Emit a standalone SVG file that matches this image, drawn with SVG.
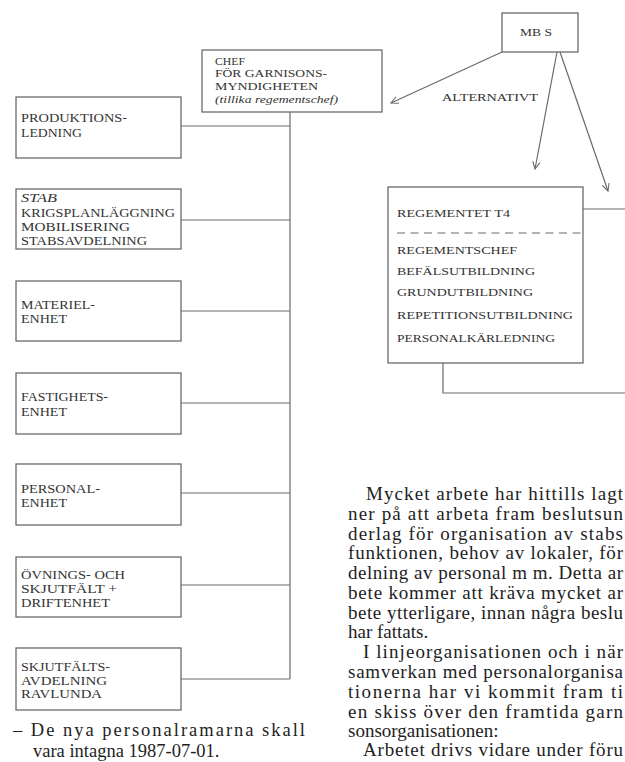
<svg xmlns="http://www.w3.org/2000/svg" width="625" height="762" viewBox="0 0 625 762">
<style>
.box{fill:#fff;stroke:#6a6a6a;stroke-width:1.3}
.ln{fill:none;stroke:#6a6a6a;stroke-width:1.2}
.t{font-family:"Liberation Serif","Times New Roman",serif;fill:#333}
.s{font-size:12px}
.c{font-size:10.5px}
.r{font-size:10.5px}
.p{font-size:19px;fill:#1e1e1e}
.q{font-size:18.5px;fill:#1e1e1e}
</style>
<defs>
<marker id="ah" viewBox="0 0 10 10" refX="9" refY="5" markerWidth="9" markerHeight="9" orient="auto" markerUnits="userSpaceOnUse">
<path d="M1,1 L9,5 L1,9" fill="none" stroke="#6a6a6a" stroke-width="1.2"/>
</marker>
</defs>
<rect width="625" height="762" fill="#fff"/>

<g id="connectors">
<line class="ln" x1="290" y1="112" x2="290" y2="679"/>
<line class="ln" x1="181" y1="126" x2="290" y2="126"/>
<line class="ln" x1="181" y1="220" x2="290" y2="220"/>
<line class="ln" x1="181" y1="311" x2="290" y2="311"/>
<line class="ln" x1="181" y1="403" x2="290" y2="403"/>
<line class="ln" x1="181" y1="493" x2="290" y2="493"/>
<line class="ln" x1="181" y1="585" x2="290" y2="585"/>
<line class="ln" x1="181" y1="679" x2="290" y2="679"/>
<line class="ln" x1="502" y1="52" x2="391" y2="103" marker-end="url(#ah)"/>
<line class="ln" x1="557" y1="52" x2="535" y2="169" marker-end="url(#ah)"/>
<line class="ln" x1="560" y1="52" x2="608" y2="191" marker-end="url(#ah)"/>
<line class="ln" x1="583" y1="209" x2="625" y2="209"/>
<polyline class="ln" points="443,363 443,393 625,393"/>
</g>

<g id="mbs">
<rect class="box" x="502" y="13" width="76" height="39"/>
<text class="t c" x="520" y="36" textLength="32" lengthAdjust="spacingAndGlyphs">MB S</text>
</g>

<g id="alternativt">
<text class="t c" x="442" y="101" textLength="96" lengthAdjust="spacingAndGlyphs">ALTERNATIVT</text>
</g>

<g id="chef">
<rect class="box" x="202" y="50" width="180" height="62"/>
<text class="t c" x="215" y="65" textLength="30" lengthAdjust="spacingAndGlyphs">CHEF</text>
<text class="t c" x="215" y="77" textLength="112" lengthAdjust="spacingAndGlyphs">FÖR GARNISONS-</text>
<text class="t c" x="215" y="90" textLength="103" lengthAdjust="spacingAndGlyphs">MYNDIGHETEN</text>
<text class="t c" x="215" y="103" textLength="123" lengthAdjust="spacingAndGlyphs" font-style="italic">(tillika regementschef)</text>
</g>

<g id="produktionsledning">
<rect class="box" x="16" y="97" width="165" height="61"/>
<text class="t s" x="21" y="122" textLength="106" lengthAdjust="spacingAndGlyphs">PRODUKTIONS-</text>
<text class="t s" x="21" y="137" textLength="61" lengthAdjust="spacingAndGlyphs">LEDNING</text>
</g>

<g id="stab">
<rect class="box" x="16" y="189" width="165" height="60"/>
<text class="t s" x="21" y="202" textLength="36" lengthAdjust="spacingAndGlyphs" font-style="italic">STAB</text>
<text class="t s" x="21" y="217" textLength="154" lengthAdjust="spacingAndGlyphs">KRIGSPLANLÄGGNING</text>
<text class="t s" x="21" y="231" textLength="109" lengthAdjust="spacingAndGlyphs">MOBILISERING</text>
<text class="t s" x="21" y="245" textLength="126" lengthAdjust="spacingAndGlyphs">STABSAVDELNING</text>
</g>

<g id="materielenhet">
<rect class="box" x="16" y="281" width="165" height="60"/>
<text class="t s" x="21" y="309" textLength="74" lengthAdjust="spacingAndGlyphs">MATERIEL-</text>
<text class="t s" x="21" y="323" textLength="46" lengthAdjust="spacingAndGlyphs">ENHET</text>
</g>

<g id="fastighetsenhet">
<rect class="box" x="16" y="373" width="165" height="61"/>
<text class="t s" x="21" y="401" textLength="87" lengthAdjust="spacingAndGlyphs">FASTIGHETS-</text>
<text class="t s" x="21" y="416" textLength="46" lengthAdjust="spacingAndGlyphs">ENHET</text>
</g>

<g id="personalenhet">
<rect class="box" x="16" y="464" width="165" height="61"/>
<text class="t s" x="21" y="493" textLength="79" lengthAdjust="spacingAndGlyphs">PERSONAL-</text>
<text class="t s" x="21" y="507" textLength="46" lengthAdjust="spacingAndGlyphs">ENHET</text>
</g>

<g id="ovningsfalt">
<rect class="box" x="16" y="557" width="165" height="60"/>
<text class="t s" x="21" y="579" textLength="104" lengthAdjust="spacingAndGlyphs">ÖVNINGS- OCH</text>
<text class="t s" x="21" y="593" textLength="96" lengthAdjust="spacingAndGlyphs">SKJUTFÄLT +</text>
<text class="t s" x="21" y="607" textLength="89" lengthAdjust="spacingAndGlyphs">DRIFTENHET</text>
</g>

<g id="skjutfaltsavdelning">
<rect class="box" x="16" y="648" width="165" height="62"/>
<text class="t s" x="21" y="671" textLength="89" lengthAdjust="spacingAndGlyphs">SKJUTFÄLTS-</text>
<text class="t s" x="21" y="685" textLength="86" lengthAdjust="spacingAndGlyphs">AVDELNING</text>
<text class="t s" x="21" y="698" textLength="81" lengthAdjust="spacingAndGlyphs">RAVLUNDA</text>
</g>

<g id="regementet">
<rect class="box" x="388" y="187" width="195" height="176"/>
<text class="t r" x="397" y="217" textLength="113" lengthAdjust="spacingAndGlyphs">REGEMENTET T4</text>
<line x1="397" y1="233" x2="583" y2="233" stroke="#6a6a6a" stroke-width="1.2" stroke-dasharray="8,5.5"/>
<text class="t r" x="397" y="254" textLength="120" lengthAdjust="spacingAndGlyphs">REGEMENTSCHEF</text>
<text class="t r" x="397" y="275" textLength="138" lengthAdjust="spacingAndGlyphs">BEFÄLSUTBILDNING</text>
<text class="t r" x="397" y="296" textLength="136" lengthAdjust="spacingAndGlyphs">GRUNDUTBILDNING</text>
<text class="t r" x="397" y="319" textLength="176" lengthAdjust="spacingAndGlyphs">REPETITIONSUTBILDNING</text>
<text class="t r" x="397" y="342" textLength="158" lengthAdjust="spacingAndGlyphs">PERSONALKÄRLEDNING</text>
</g>

<g id="text-left">
<text class="t q" x="13" y="736" textLength="292" lengthAdjust="spacing">– De nya personalramarna skall</text>
<text class="t q" x="33" y="757">vara intagna 1987-07-01.</text>
</g>

<g id="text-right">
<text class="t p" x="366" y="500" textLength="257" lengthAdjust="spacing">Mycket arbete har hittills lagt</text>
<text class="t p" x="348" y="520" textLength="275" lengthAdjust="spacing">ner på att arbeta fram beslutsun</text>
<text class="t p" x="348" y="540" textLength="275" lengthAdjust="spacing">derlag för organisation av stabs</text>
<text class="t p" x="348" y="559" textLength="275" lengthAdjust="spacing">funktionen, behov av lokaler, för</text>
<text class="t p" x="348" y="579" textLength="275" lengthAdjust="spacing">delning av personal m m. Detta ar</text>
<text class="t p" x="348" y="599" textLength="275" lengthAdjust="spacing">bete kommer att kräva mycket ar</text>
<text class="t p" x="348" y="619" textLength="275" lengthAdjust="spacing">bete ytterligare, innan några beslu</text>
<text class="t p" x="348" y="638">har fattats.</text>
<text class="t p" x="363" y="658" textLength="260" lengthAdjust="spacing">I linjeorganisationen och i när</text>
<text class="t p" x="348" y="678" textLength="275" lengthAdjust="spacing">samverkan med personalorganisa</text>
<text class="t p" x="348" y="698" textLength="275" lengthAdjust="spacing">tionerna har vi kommit fram ti</text>
<text class="t p" x="348" y="718" textLength="275" lengthAdjust="spacing">en skiss över den framtida garn</text>
<text class="t p" x="348" y="737">sonsorganisationen:</text>
<text class="t p" x="363" y="756" textLength="260" lengthAdjust="spacing">Arbetet drivs vidare under föru</text>
</g>
</svg>
